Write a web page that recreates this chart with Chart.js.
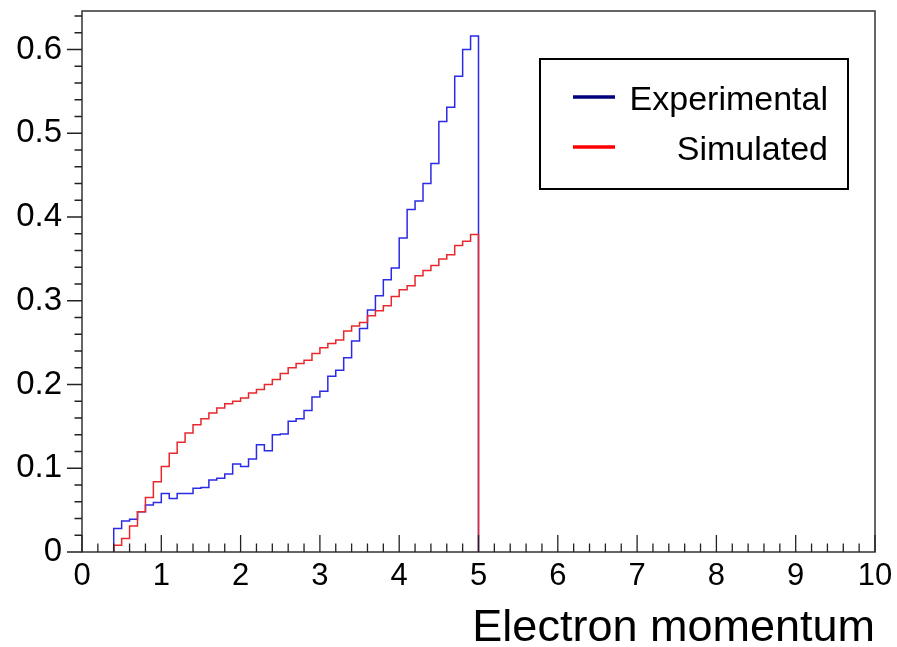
<!DOCTYPE html>
<html><head><meta charset="utf-8">
<script src="https://cdn.jsdelivr.net/npm/chart.js@4/dist/chart.umd.min.js"></script>
<style>html,body{margin:0;padding:0;background:#fff;}#wrap{width:897px;height:647px;}</style>
</head><body><div id="wrap"><canvas id="c" width="897" height="647"></canvas></div>
<script>
// ---- data (bin width 0.1) ----
const binLowEdges = [0.4,0.5,0.6,0.7,0.8,0.9,1.0,1.1,1.2,1.3,1.4,1.5,1.6,1.7,1.8,1.9,2.0,2.1,2.2,2.3,2.4,2.5,2.6,2.7,2.8,2.9,3.0,3.1,3.2,3.3,3.4,3.5,3.6,3.7,3.8,3.9,4.0,4.1,4.2,4.3,4.4,4.5,4.6,4.7,4.8,4.9];
const histUpperEdge = 5.0;
const experimental = [0.028,0.037,0.039,0.048,0.056,0.059,0.070,0.064,0.070,0.070,0.076,0.077,0.086,0.088,0.093,0.105,0.102,0.111,0.128,0.121,0.140,0.141,0.156,0.159,0.169,0.185,0.192,0.210,0.217,0.232,0.252,0.267,0.289,0.306,0.325,0.339,0.375,0.409,0.419,0.440,0.464,0.514,0.531,0.568,0.600,0.616];
const simulated = [0.008,0.016,0.031,0.048,0.065,0.084,0.102,0.118,0.131,0.142,0.152,0.159,0.166,0.172,0.177,0.180,0.184,0.190,0.194,0.200,0.206,0.213,0.220,0.225,0.229,0.237,0.244,0.249,0.253,0.264,0.270,0.274,0.282,0.288,0.294,0.305,0.313,0.318,0.330,0.336,0.342,0.350,0.355,0.366,0.371,0.379];
const seriesNames = ['Experimental','Simulated'];
const xTickValues = [0,1,2,3,4,5,6,7,8,9,10];
const xTickLabels = ['0','1','2','3','4','5','6','7','8','9','10'];
const yTickValues = [0,0.1,0.2,0.3,0.4,0.5,0.6];
const yTickLabels = ['0','0.1','0.2','0.3','0.4','0.5','0.6'];
const xTitle = 'Electron momentum';

const FONT = '"Liberation Sans", Arial, Helvetica, sans-serif';

function stepPoints(vals){
  const pts = [{x: binLowEdges[0], y: 0}];
  binLowEdges.forEach((e,i)=>pts.push({x:e, y:vals[i]}));
  pts.push({x: histUpperEdge, y: 0});
  return pts;
}

const rootFrame = {
  id:'rootFrame',
  afterDatasetsDraw(chart){
    const {ctx, chartArea:a, scales:{x:xs, y:ys}} = chart;
    ctx.save();
    ctx.strokeStyle = '#333';
    ctx.lineWidth = 1.5;
    ctx.strokeRect(a.left, a.top, a.right-a.left, a.bottom-a.top);
    ctx.strokeStyle = '#222';
    ctx.lineWidth = 1.3;
    ctx.beginPath();
    for(let i=0;i<=50;i++){
      const px = xs.getPixelForValue(i*0.2);
      const len = (i%5===0)?17:8.5;
      ctx.moveTo(px, a.bottom); ctx.lineTo(px, a.bottom-len);
    }
    for(let i=0;i<=32;i++){
      const py = ys.getPixelForValue(i*0.02);
      const len = (i%5===0)?15:7.5;
      ctx.moveTo(a.left, py); ctx.lineTo(a.left-len, py);
    }
    ctx.stroke();
    ctx.restore();
  },
  afterDraw(chart){
    const ctx = chart.ctx;
    ctx.save();
    ctx.fillStyle = '#fff';
    ctx.fillRect(540, 59, 308, 130);
    ctx.strokeStyle = '#000';
    ctx.lineWidth = 2;
    ctx.strokeRect(540, 59, 308, 130);
    const rows = [{c:'#00007f', y:97}, {c:'#ff0000', y:147}];
    ctx.font = '34px ' + FONT;
    ctx.textAlign = 'right';
    ctx.textBaseline = 'alphabetic';
    rows.forEach((r,i)=>{
      ctx.strokeStyle = r.c; ctx.lineWidth = 3.5;
      ctx.beginPath(); ctx.moveTo(573, r.y); ctx.lineTo(615, r.y); ctx.stroke();
      ctx.fillStyle = '#000';
      ctx.fillText(seriesNames[i], 828, r.y + 13);
    });
    ctx.restore();
  }
};

new Chart(document.getElementById('c'), {
  type: 'line',
  data: {
    datasets: [
      {label: seriesNames[0], data: stepPoints(experimental), stepped: 'before', borderColor: '#2b2be6', borderWidth: 1.5, pointRadius: 0, fill: false, order: 1},
      {label: seriesNames[1], data: stepPoints(simulated), stepped: 'before', borderColor: '#e8282c', borderWidth: 1.5, pointRadius: 0, fill: false, order: 0}
    ]
  },
  options: {
    responsive: false,
    animation: false,
    devicePixelRatio: 1,
    layout: {padding: {top: 11, right: 22, left: 0, bottom: 0}},
    plugins: {legend: {display: false}, tooltip: {enabled: false}},
    scales: {
      x: {
        type: 'linear', min: 0, max: 10,
        afterFit(s){ s.height = 95; s.paddingLeft = 0; s.paddingRight = 0; },
        afterBuildTicks(s){ s.ticks = xTickValues.map(v=>({value:v})); },
        grid: {display: false, drawTicks: false},
        border: {display: false},
        ticks: {autoSkip: false, maxRotation: 0, padding: 6, color: '#000', font: {family: FONT, size: 31},
          callback: (v,i)=>xTickLabels[i]},
        title: {display: true, text: xTitle, align: 'end', color: '#000', font: {family: FONT, size: 45}, padding: {top: 0, bottom: -9}}
      },
      y: {
        type: 'linear', min: 0, max: 0.646,
        afterFit(s){ s.width = 82; s.paddingTop = 0; s.paddingBottom = 0; },
        afterBuildTicks(s){ s.ticks = yTickValues.map(v=>({value:v})); },
        grid: {display: false, drawTicks: false},
        border: {display: false},
        ticks: {autoSkip: false, padding: 20, color: '#000', font: {family: FONT, size: 33},
          callback: (v,i)=>yTickLabels[i]}
      }
    }
  },
  plugins: [rootFrame]
});
</script></body></html>
